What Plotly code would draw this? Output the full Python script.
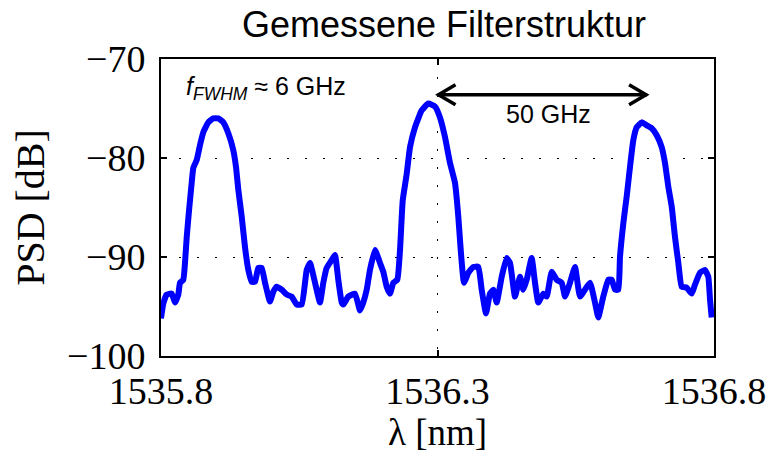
import plotly.graph_objects as go

wavelength_nm = [
    1535.8000, 1535.8042, 1535.8103, 1535.8193, 1535.8253, 1535.8313, 1535.8344, 1535.8403,
    1535.8434, 1535.8465, 1535.8512, 1535.8555, 1535.8584, 1535.8646, 1535.8705, 1535.8765,
    1535.8855, 1535.8946, 1535.9036, 1535.9127, 1535.9217, 1535.9307, 1535.9356, 1535.9398,
    1535.9459, 1535.9519, 1535.9579, 1535.9640, 1535.9700, 1535.9759, 1535.9821, 1535.9881,
    1535.9971, 1536.0031, 1536.0092, 1536.0183, 1536.0273, 1536.0363, 1536.0454, 1536.0544,
    1536.0635, 1536.0694, 1536.0785, 1536.0875, 1536.0935, 1536.0996, 1536.1087, 1536.1146,
    1536.1206, 1536.1268, 1536.1297, 1536.1387, 1536.1508, 1536.1599, 1536.1658, 1536.1720,
    1536.1779, 1536.1870, 1536.1960, 1536.2020, 1536.2081, 1536.2141, 1536.2201, 1536.2273,
    1536.2322, 1536.2371, 1536.2443, 1536.2503, 1536.2593, 1536.2714, 1536.2834, 1536.2955,
    1536.3045, 1536.3136, 1536.3226, 1536.3316, 1536.3376, 1536.3420, 1536.3479, 1536.3557,
    1536.3647, 1536.3738, 1536.3799, 1536.3877, 1536.3949, 1536.4009, 1536.4070, 1536.4161,
    1536.4251, 1536.4311, 1536.4401, 1536.4492, 1536.4552, 1536.4613, 1536.4703, 1536.4763,
    1536.4823, 1536.4913, 1536.4974, 1536.5065, 1536.5155, 1536.5246, 1536.5306, 1536.5396,
    1536.5486, 1536.5577, 1536.5667, 1536.5758, 1536.5848, 1536.5908, 1536.5998, 1536.6089,
    1536.6150, 1536.6210, 1536.6270, 1536.6300, 1536.6360, 1536.6421, 1536.6481, 1536.6541,
    1536.6602, 1536.6693, 1536.6783, 1536.6873, 1536.6964, 1536.7054, 1536.7114, 1536.7174,
    1536.7235, 1536.7295, 1536.7355, 1536.7416, 1536.7506, 1536.7597, 1536.7656, 1536.7747,
    1536.7837, 1536.7897, 1536.7928, 1536.7958,
]

psd_db = [
    -96.2, -94.7, -93.8, -93.7, -94.6, -93.8, -92.6, -92.3,
    -90.6, -88.0, -85.0, -82.5, -81.0, -80.2, -78.7, -77.4,
    -76.4, -76.0, -76.0, -76.4, -77.5, -79.2, -80.9, -83.2,
    -85.9, -89.0, -91.3, -92.5, -92.5, -91.1, -91.1, -92.6,
    -94.5, -93.5, -93.0, -93.3, -93.8, -94.0, -94.8, -94.8,
    -91.3, -90.6, -92.6, -94.6, -92.6, -91.1, -90.3, -89.8,
    -92.3, -94.6, -94.8, -94.0, -93.7, -95.4, -94.6, -93.3,
    -91.3, -89.3, -90.6, -91.5, -93.0, -93.7, -92.6, -92.3,
    -89.3, -84.3, -81.6, -78.9, -76.9, -75.2, -74.5, -74.8,
    -75.9, -77.9, -80.5, -82.5, -85.9, -89.3, -92.6, -91.6,
    -91.0, -91.0, -93.3, -95.7, -93.7, -93.3, -94.6, -92.0,
    -90.1, -90.6, -94.0, -92.0, -93.3, -92.3, -90.1, -92.6,
    -94.6, -93.7, -94.0, -91.5, -92.3, -92.6, -94.0, -92.6,
    -91.0, -94.0, -93.3, -92.6, -94.6, -96.1, -94.0, -92.3,
    -92.3, -93.3, -93.3, -90.0, -86.6, -83.9, -80.9, -78.2,
    -76.9, -76.4, -76.7, -77.0, -77.7, -78.9, -80.5, -82.9,
    -84.9, -88.0, -90.6, -93.0, -93.1, -93.7, -92.8, -91.6,
    -91.3, -92.0, -94.3, -96.1,
]

x_ticks = [1535.8, 1536.3, 1536.8]
x_tick_labels = ["1535.8", "1536.3", "1536.8"]
y_ticks = [-100, -90, -80, -70]
y_tick_labels = ["\u2212100", "\u221290", "\u221280", "\u221270"]

title_text = "Gemessene Filterstruktur"
fwhm_text = "<i>f</i><sub><i>FWHM</i></sub> \u2248 6 GHz"
spacing_text = "50 GHz"
arrow_start = 1536.3
arrow_end = 1536.679
arrow_level = -73.6

serif = "Liberation Serif, Times New Roman, serif"
sans = "Liberation Sans, Arial, sans-serif"

fig = go.Figure()
fig.add_trace(go.Scatter(
    x=wavelength_nm, y=psd_db, mode="lines",
    line=dict(color="#0000ff", width=6, shape="spline", smoothing=0.4),
    showlegend=False, hoverinfo="skip",
))

axis_common = dict(
    showline=True, linecolor="black", linewidth=2, mirror="ticks",
    ticks="inside", ticklen=6, tickwidth=1.5, tickcolor="black",
    showgrid=True, gridcolor="black", gridwidth=1.3, griddash="2px,16px",
    zeroline=False, automargin=False,
    tickfont=dict(family=serif, size=38, color="black"),
)

fig.update_xaxes(
    range=[1535.8, 1536.8], tickvals=x_ticks, ticktext=x_tick_labels,
    title=dict(text="\u03bb [nm]", font=dict(family=serif, size=37, color="black"), standoff=0),
    **axis_common,
)
fig.update_yaxes(
    range=[-100, -70], tickvals=y_ticks, ticktext=y_tick_labels,
    title=dict(text="PSD [dB]", font=dict(family=serif, size=40, color="black"), standoff=10),
    ticklabelstandoff=6,
    **axis_common,
)

# double-headed arrow with open heads
fig.add_shape(type="line", xref="x", yref="y", x0=arrow_start, x1=arrow_end,
              y0=arrow_level, y1=arrow_level, line=dict(color="black", width=3.5), layer="above")
fig.add_shape(type="path", xref="x", yref="y", xsizemode="pixel", ysizemode="pixel",
              xanchor=arrow_start, yanchor=arrow_level,
              path="M 18 10 L 1 0 L 18 -10", line=dict(color="black", width=3.5), layer="above")
fig.add_shape(type="path", xref="x", yref="y", xsizemode="pixel", ysizemode="pixel",
              xanchor=arrow_end, yanchor=arrow_level,
              path="M -18 10 L -1 0 L -18 -10", line=dict(color="black", width=3.5), layer="above")

fig.add_annotation(x=1535.842, y=-72.9, xref="x", yref="y", text=fwhm_text, showarrow=False,
                   xanchor="left", yanchor="middle", font=dict(family=sans, size=25, color="black"))
fig.add_annotation(x=1536.5, y=-75.6, xref="x", yref="y", text=spacing_text, showarrow=False,
                   xanchor="center", yanchor="middle", font=dict(family=sans, size=25, color="black"))

fig.update_layout(
    width=769, height=455,
    margin=dict(l=161, r=55, t=59, b=99),
    paper_bgcolor="white", plot_bgcolor="white",
    title=dict(text=title_text, x=444 / 769, xanchor="center", xref="container",
               y=1 - 24 / 455, yref="container", yanchor="middle",
               font=dict(family=sans, size=36, color="black")),
)

fig.write_html("out.html")
